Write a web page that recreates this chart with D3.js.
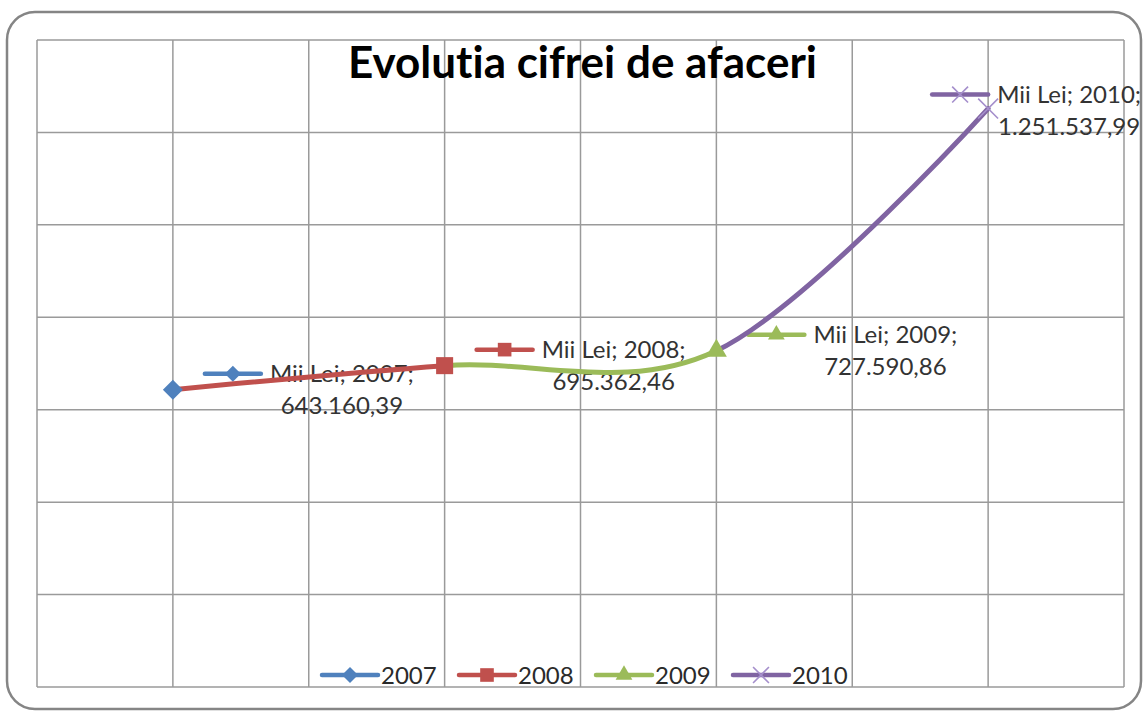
<!DOCTYPE html>
<html>
<head>
<meta charset="utf-8">
<script src="https://cdn.jsdelivr.net/npm/d3@7"></script>
<style>
  html, body { margin: 0; padding: 0; background: #fff; }
  svg { display: block; }
  text { font-variant-ligatures: none; font-feature-settings: "liga" 0, "clig" 0; }
</style>
</head>
<body>
<svg id="chart" width="1143" height="711"></svg>
<script>
// Turnover by year (thousand lei)
const years = [2007, 2008, 2009, 2010];
const values = [643160.39, 695362.46, 727590.86, 1251537.99];
const seriesNames = ["2007", "2008", "2009", "2010"];
const seriesColors = ["#4F81BD", "#C0504D", "#9BBB59", "#8064A2"];
const unitLabel = "Mii Lei";
const yTicks = [0, 200000, 400000, 600000, 800000, 1000000, 1200000, 1400000];
const xGrid = [2006.5, 2007, 2007.5, 2008, 2008.5, 2009, 2009.5, 2010, 2010.5];
const title = "Evolutia cifrei de afaceri";

const roLocale = d3.formatLocale({ decimal: ",", thousands: ".", grouping: [3], currency: ["", " lei"] });
const fmt = roLocale.format(",.2f");

const svg = d3.select("#chart");
const plot = { left: 37, top: 40, right: 1124, bottom: 687 };

const x = d3.scaleLinear().domain([2006.5, 2010.5]).range([plot.left, plot.right]);
const y = d3.scaleLinear().domain([0, 1400000]).range([plot.bottom, plot.top]);

// outer chart frame
svg.append("rect")
  .attr("x", 7).attr("y", 12).attr("width", 1134).attr("height", 697)
  .attr("rx", 28).attr("ry", 28)
  .attr("fill", "#fff").attr("stroke", "#858585").attr("stroke-width", 2.5);

// gridlines
const grid = svg.append("g").attr("stroke", "#9a9a9a").attr("stroke-width", 1.5);
grid.selectAll("line.h").data(yTicks).join("line").attr("class", "h")
  .attr("x1", plot.left).attr("x2", plot.right)
  .attr("y1", d => y(d)).attr("y2", d => y(d));
grid.selectAll("line.v").data(xGrid).join("line").attr("class", "v")
  .attr("y1", plot.top).attr("y2", plot.bottom)
  .attr("x1", d => x(d)).attr("x2", d => x(d));

// title
svg.append("text")
  .attr("x", (plot.left + plot.right) / 2 + 2).attr("y", 78)
  .attr("text-anchor", "middle")
  .attr("font-family", "Lato, 'Open Sans', sans-serif")
  .attr("font-weight", 700).attr("font-size", 44)
  .attr("fill", "#000")
  .text(title);

// marker shapes per series
const markerDefs = [
  { type: d3.symbolSquare, size: 200, rotate: 45, fill: true },
  { type: d3.symbolSquare, size: 290, rotate: 0, fill: true },
  { type: d3.symbolTriangle, size: 190, rotate: 0, fill: true },
  { type: d3.symbolTimes, size: 260, rotate: 0, fill: false }
];
function drawMarker(g, i, cx, cy, scale) {
  const m = markerDefs[i];
  const p = g.append("path")
    .attr("d", d3.symbol(m.type, m.size * scale * scale)())
    .attr("transform", `translate(${cx},${cy}) rotate(${m.rotate})`);
  if (m.fill) p.attr("fill", seriesColors[i]).attr("stroke", "none");
  else p.attr("fill", "none").attr("stroke", "#a58fcc").attr("stroke-width", 1.6);
}
function drawKey(g, i, x0, cy, len) {
  g.append("line")
    .attr("x1", x0).attr("x2", x0 + len).attr("y1", cy).attr("y2", cy)
    .attr("stroke", seriesColors[i]).attr("stroke-width", 4.5)
    .attr("stroke-linecap", "round");
  drawMarker(g, i, x0 + len / 2, cy, 0.8);
}

// data labels with legend key
const labelFont = "Lato, 'Open Sans', sans-serif";
const labelDx = [32, 32, 32, -56];
const labelDy = [-16, -16, -16, -14];
const labels = svg.append("g");
years.forEach((yr, i) => {
  const px = x(yr), py = y(values[i]);
  const kx = px + labelDx[i], ky = py + labelDy[i];
  drawKey(labels, i, kx, ky, 56);
  const tx = kx + 56 + 9;
  const t1 = labels.append("text")
    .attr("x", tx).attr("y", ky + 8)
    .attr("font-family", labelFont).attr("font-size", 24)
    .attr("fill", "#333")
    .text(`${unitLabel}; ${yr};`);
  const w = t1.node().getComputedTextLength();
  labels.append("text")
    .attr("x", tx + w / 2).attr("y", ky + 40)
    .attr("text-anchor", "middle")
    .attr("font-family", labelFont).attr("font-size", 24)
    .attr("fill", "#333")
    .text(fmt(values[i]));
});

// smoothed line, each segment coloured by the series it leads into
const pts = years.map((yr, i) => [x(yr), y(values[i])]);
const line = d3.line().curve(d3.curveCardinal.tension(0));
const defs = svg.append("defs");
for (let i = 1; i < years.length; i++) {
  defs.append("clipPath").attr("id", "seg" + i)
    .append("rect")
    .attr("x", x(years[i - 1])).attr("y", 0)
    .attr("width", x(years[i]) - x(years[i - 1]) + (i === years.length - 1 ? 4 : 0))
    .attr("height", 711);
  svg.append("path")
    .attr("d", line(pts))
    .attr("clip-path", `url(#seg${i})`)
    .attr("fill", "none")
    .attr("stroke", seriesColors[i])
    .attr("stroke-width", 5)
    .attr("stroke-linecap", "round");
}

// point markers
const marks = svg.append("g");
years.forEach((yr, i) => drawMarker(marks, i, x(yr), y(values[i]), 1));

// legend
const legend = svg.append("g");
const legendStart = 322, legendStep = 137, legendY = 675;
seriesNames.forEach((name, i) => {
  const lx = legendStart + i * legendStep;
  drawKey(legend, i, lx, legendY, 56);
  legend.append("text")
    .attr("x", lx + 59).attr("y", legendY + 9)
    .attr("font-family", labelFont).attr("font-size", 24)
    .attr("fill", "#2a2a2a")
    .text(name);
});
</script>
</body>
</html>
